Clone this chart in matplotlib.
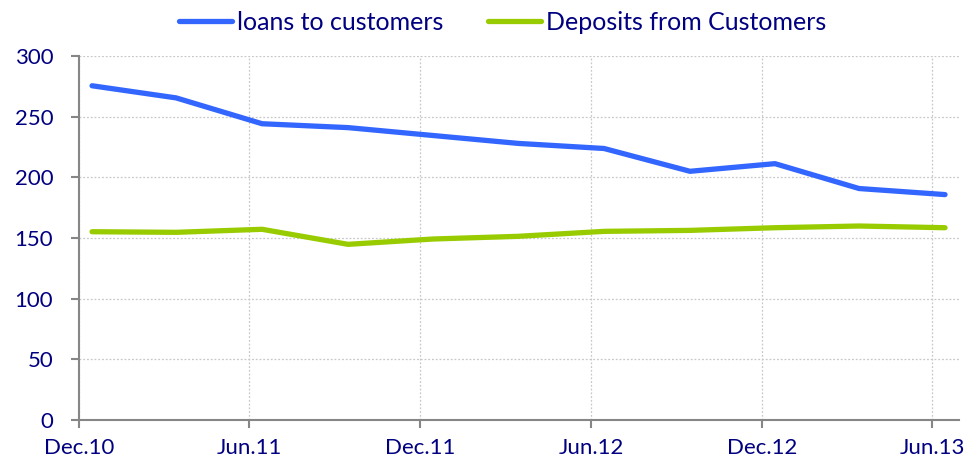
import matplotlib
matplotlib.use("Agg")
import matplotlib.pyplot as plt
import datetime as dt

# Data (quarterly, plotted mid-month)
periods = ["2010-12", "2011-03", "2011-06", "2011-09", "2011-12", "2012-03",
           "2012-06", "2012-09", "2012-12", "2013-03", "2013-06"]
loans = [275.5, 265.5, 244.2, 241.0, 234.5, 228.0, 223.8, 205.0, 211.3, 190.8, 185.8]
deposits = [155.2, 154.7, 157.2, 144.8, 149.2, 151.4, 155.5, 156.3, 158.5, 159.9, 158.5]
tick_periods = ["2010-12", "2011-06", "2011-12", "2012-06", "2012-12", "2013-06"]
tick_labels = ["Dec.10", "Jun.11", "Dec.11", "Jun.12", "Dec.12", "Jun.13"]
series_names = ["loans to customers", "Deposits from Customers"]

def to_date(p, day):
    y, m = p.split("-")
    return dt.date(int(y), int(m), day)

x = [to_date(p, 15) for p in periods]
xt = [to_date(p, 1) for p in tick_periods]

plt.rcParams['font.family'] = ['Lato', 'DejaVu Sans']
navy = "#000080"
gray = "#868686"

fig = plt.figure(figsize=(9.8, 4.67), dpi=100)
ax = fig.add_axes([0.0806, 0.1006, 0.898, 0.7794])

l1, = ax.plot(x, loans, color="#3366FF", lw=3.8, solid_capstyle="round",
              solid_joinstyle="round", label=series_names[0], zorder=3)
l2, = ax.plot(x, deposits, color="#99CC00", lw=3.8, solid_capstyle="round",
              solid_joinstyle="round", label=series_names[1], zorder=3)

ax.set_ylim(0, 300)
ax.set_yticks(range(0, 301, 50))
ax.set_xlim(dt.date(2010, 12, 1), dt.date(2013, 6, 30))
ax.set_xticks(xt)
ax.set_xticklabels(tick_labels)

ax.grid(True, color="#c8c8c8", linestyle=(0, (1.5, 1.5)), linewidth=0.9, zorder=0)
for s in ["top", "right"]:
    ax.spines[s].set_visible(False)
for s in ["left", "bottom"]:
    ax.spines[s].set_color(gray)
    ax.spines[s].set_linewidth(1.5)
ax.tick_params(axis="both", colors=gray, length=6, width=1.5, labelsize=16,
               labelcolor=navy)
ax.tick_params(axis="x", pad=7)
ax.tick_params(axis="y", pad=12.5)

fig.legend(handles=[l1, l2], loc="upper center", bbox_to_anchor=(0.513, 1.025),
           ncol=2, frameon=False, fontsize=18, handlelength=2.1,
           handletextpad=0.2, columnspacing=1.8, labelcolor=navy)

fig.savefig("out.png", dpi=100)
